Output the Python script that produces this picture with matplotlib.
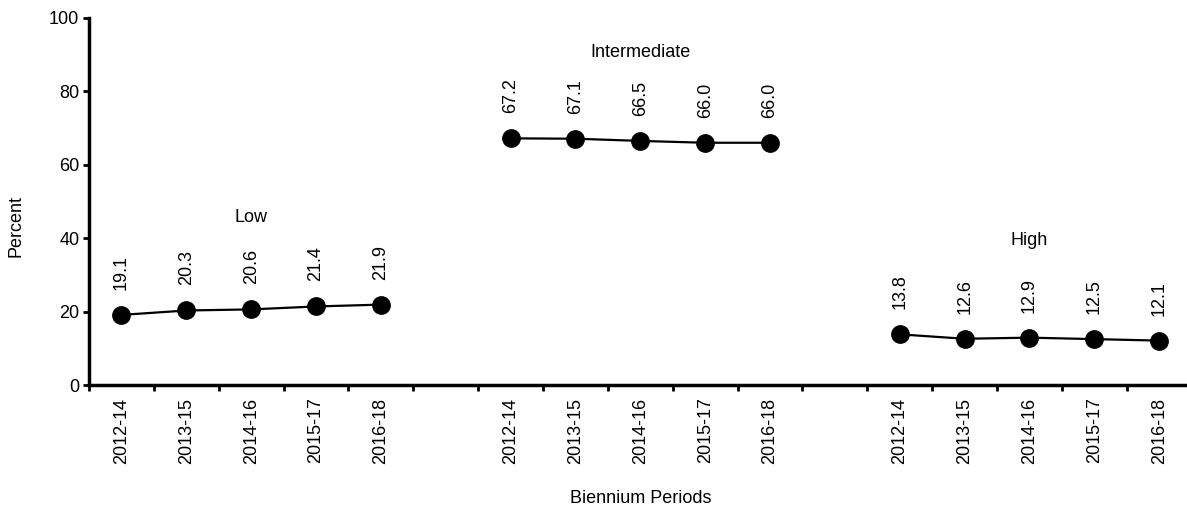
import matplotlib
matplotlib.use("Agg")
import matplotlib.pyplot as plt

plt.rcParams["font.family"] = ["Liberation Sans", "DejaVu Sans"]

PERIODS = ["2012-14", "2013-15", "2014-16", "2015-17", "2016-18"]
GROUPS = ["Low", "Intermediate", "High"]
LOW = [19.1, 20.3, 20.6, 21.4, 21.9]
INTERMEDIATE = [67.2, 67.1, 66.5, 66.0, 66.0]
HIGH = [13.8, 12.6, 12.9, 12.5, 12.1]
Y_TICKS = [0, 20, 40, 60, 80, 100]

# height of each group title above the axis (data units)
TITLE_Y = [45.5, 90.7, 39.5]
FS = 13


def main():
    fig = plt.figure(figsize=(11.87, 5.13), dpi=100)
    ax = fig.add_axes([0.075, 0.2495, 0.93, 0.7155])

    series = [LOW, INTERMEDIATE, HIGH]
    n = len(PERIODS)
    xticks, xlabels = [], []
    for g, (name, vals) in enumerate(zip(GROUPS, series)):
        xs = [g * (n + 1) + i for i in range(n)]
        ax.plot(xs, vals, color="black", lw=1.6, marker="o", ms=12.5,
                markerfacecolor="black", markeredgecolor="black", zorder=3)
        for x, v in zip(xs, vals):
            ax.annotate(f"{v:.1f}", (x, v), xytext=(0, 18), textcoords="offset points",
                        rotation=90, ha="center", va="bottom", fontsize=FS)
        ax.text(sum(xs) / n, TITLE_Y[g], name, ha="center", va="center", fontsize=FS)
        xticks += xs
        xlabels += PERIODS

    total = len(GROUPS) * (n + 1) - 1
    ax.set_xlim(-0.5, total - 0.5 + 0.02)
    ax.set_ylim(0, 100)
    ax.set_xticks(xticks)
    ax.set_xticklabels(xlabels, rotation=90, fontsize=FS)
    ax.set_xticks([i - 0.5 for i in range(total + 1)], minor=True)
    ax.tick_params(axis="x", which="major", length=0, pad=9)
    ax.tick_params(axis="x", which="minor", length=4, width=2, direction="out")
    ax.set_yticks(Y_TICKS)
    ax.set_yticklabels([str(t) for t in Y_TICKS], fontsize=FS)
    ax.tick_params(axis="y", length=4, width=2, direction="out", pad=3)

    for s in ["top", "right"]:
        ax.spines[s].set_visible(False)
    for s in ["left", "bottom"]:
        ax.spines[s].set_linewidth(2.5)

    ax.set_ylabel("Percent", fontsize=FS)
    ax.yaxis.set_label_coords(-0.058, 0.433)
    ax.set_xlabel("Biennium Periods", fontsize=FS)
    ax.xaxis.set_label_coords(0.5, -0.286)

    fig.savefig("out.png", dpi=100)


main()
